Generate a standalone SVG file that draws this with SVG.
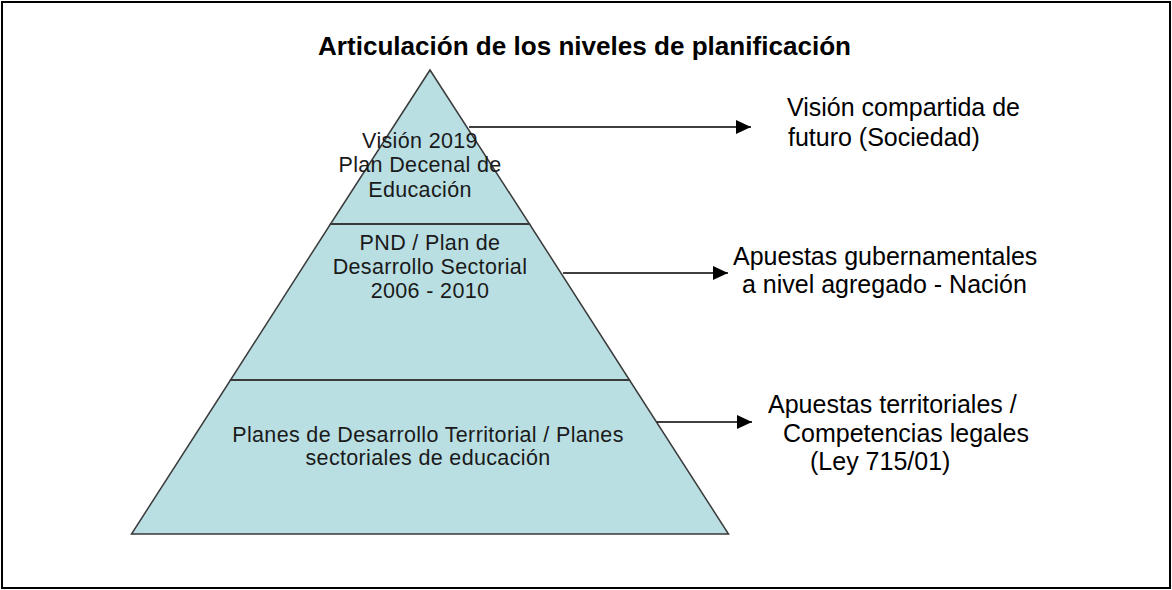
<svg xmlns="http://www.w3.org/2000/svg" width="1172" height="590" viewBox="0 0 1172 590">
  <style>
    .sec { fill: #B9DFE3; stroke: #3a3a3a; stroke-width: 1.5; stroke-linejoin: miter; }
    .divider { stroke: #3a3a3a; stroke-width: 2; }
    .ptxt { font-family: "Liberation Sans", Arial, sans-serif; font-size: 21.5px; letter-spacing: 0.35px; fill: #1a1a1a; text-anchor: middle; }
    .rtxt { font-family: "Liberation Sans", Arial, sans-serif; font-size: 25px; fill: #000; }
    .title { font-family: "Liberation Sans", Arial, sans-serif; font-size: 25px; font-weight: bold; fill: #000; }
    .conn { stroke: #000; stroke-width: 1.5; fill: none; marker-end: url(#arrow); }
  </style>
  <defs>
    <marker id="arrow" viewBox="0 0 15 14" refX="15" refY="7" markerWidth="15" markerHeight="14" markerUnits="userSpaceOnUse" orient="auto">
      <path d="M0,0 L15,7 L0,14 Z" fill="#000"/>
    </marker>
  </defs>
  <rect x="0" y="0" width="1172" height="590" fill="#fff"/>
  <rect x="2" y="2" width="1168" height="586" fill="none" stroke="#000" stroke-width="2"/>
  <text class="title" x="318" y="55" textLength="533" lengthAdjust="spacingAndGlyphs">Articulación de los niveles de planificación</text>

  <g id="nivel-vision">
    <polygon class="sec" points="430,70 529.5,224 330.5,224"/>
    <text class="ptxt" x="420" y="148">Visión 2019</text>
    <text class="ptxt" x="420" y="172">Plan Decenal de</text>
    <text class="ptxt" x="420" y="197">Educación</text>
  </g>
  <g id="nivel-pnd">
    <polygon class="sec" points="330.5,224 529.5,224 629.5,380 230.5,380"/>
    <text class="ptxt" x="430" y="250">PND / Plan de</text>
    <text class="ptxt" x="430" y="274">Desarrollo Sectorial</text>
    <text class="ptxt" x="430" y="298">2006 - 2010</text>
  </g>
  <g id="nivel-territorial">
    <polygon class="sec" points="230.5,380 629.5,380 728.5,534 131.5,534"/>
    <text class="ptxt" x="428" y="442">Planes de Desarrollo Territorial / Planes</text>
    <text class="ptxt" x="428" y="465">sectoriales de educación</text>
  </g>
  <line class="divider" x1="331" y1="224" x2="529" y2="224"/>
  <line class="divider" x1="231" y1="380" x2="629" y2="380"/>

  <g id="connectors">
    <line class="conn" x1="469" y1="127" x2="751" y2="127"/>
    <line class="conn" x1="563" y1="273" x2="728" y2="273"/>
    <line class="conn" x1="657" y1="422" x2="752" y2="422"/>
  </g>

  <g id="lbl-sociedad">
    <text class="rtxt" x="787" y="116">Visión compartida de</text>
    <text class="rtxt" x="788" y="146">futuro (Sociedad)</text>
  </g>
  <g id="lbl-nacion">
    <text class="rtxt" x="733" y="265">Apuestas gubernamentales</text>
    <text class="rtxt" x="742" y="293">a nivel agregado - Nación</text>
  </g>
  <g id="lbl-territorial">
    <text class="rtxt" x="768" y="413">Apuestas territoriales /</text>
    <text class="rtxt" x="783" y="442">Competencias legales</text>
    <text class="rtxt" x="810" y="470">(Ley 715/01)</text>
  </g>
</svg>
